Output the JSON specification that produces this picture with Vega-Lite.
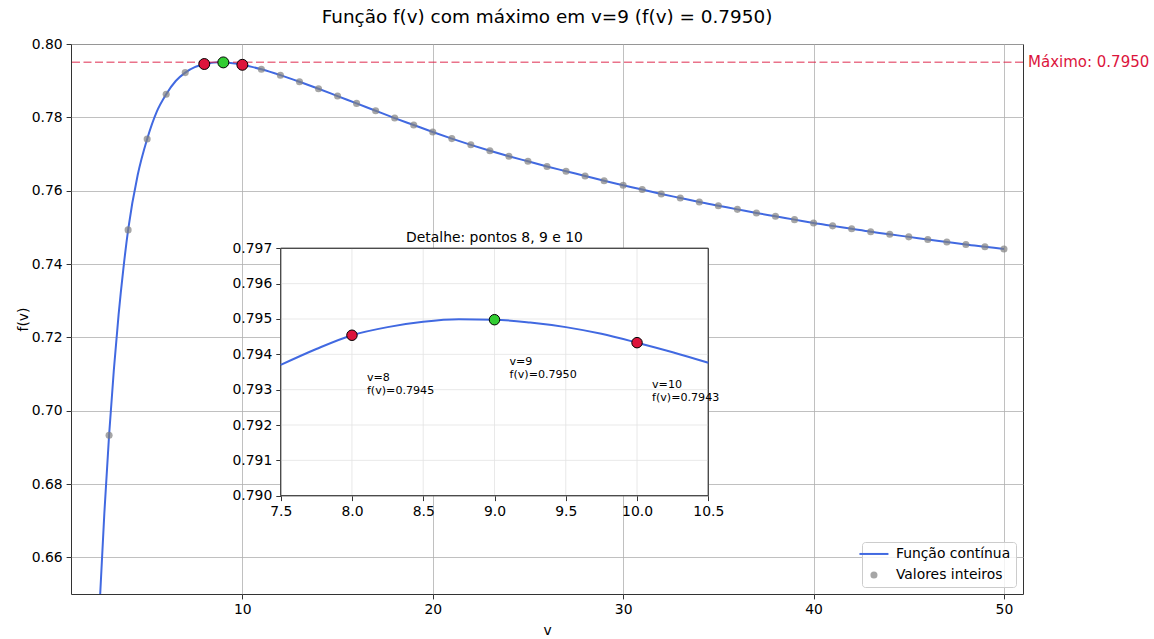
{
  "$schema": "https://vega.github.io/schema/vega-lite/v6.json",
  "width": 952,
  "height": 550,
  "autosize": "none",
  "padding": {"left": 71, "top": 44, "right": 131, "bottom": 45},
  "background": "white",
  "config": {
    "font": "DejaVu Sans",
    "view": {"stroke": "#333333", "strokeWidth": 1},
    "axis": {
      "labelFont": "DejaVu Sans", "labelFontSize": 13.9, "labelColor": "#000000",
      "titleFont": "DejaVu Sans", "titleFontSize": 13.9, "titleFontWeight": "normal", "titleColor": "#000000",
      "tickColor": "#333333", "tickSize": 4.9, "tickWidth": 1, "labelPadding": 4,
      "domain": false, "gridColor": "#b0b0b0", "gridWidth": 0.8, "labelFlush": false, "labelOverlap": false
    }
  },
  "title": {
    "text": "Função f(v) com máximo em v=9 (f(v) = 0.7950)",
    "font": "DejaVu Sans", "fontSize": 18.4, "fontWeight": "normal", "color": "#000000",
    "anchor": "middle", "frame": "group", "baseline": "alphabetic", "offset": -4
  },
  "datasets": {
    "curve": [
      {"v": 2.4, "f": 0.6352}, {"v": 2.5, "f": 0.6466}, {"v": 2.75, "f": 0.6719}, {"v": 3, "f": 0.6933},
      {"v": 3.25, "f": 0.7111}, {"v": 3.5, "f": 0.7262}, {"v": 3.75, "f": 0.7387}, {"v": 4, "f": 0.7493},
      {"v": 4.5, "f": 0.7642}, {"v": 5, "f": 0.7741}, {"v": 5.5, "f": 0.7815}, {"v": 6, "f": 0.7863},
      {"v": 6.5, "f": 0.7899}, {"v": 7, "f": 0.7922}, {"v": 7.5, "f": 0.7937}, {"v": 7.75, "f": 0.79415},
      {"v": 8, "f": 0.79454}, {"v": 8.25, "f": 0.79477}, {"v": 8.5, "f": 0.79492}, {"v": 8.75, "f": 0.79499},
      {"v": 9, "f": 0.79498}, {"v": 9.25, "f": 0.7949}, {"v": 9.5, "f": 0.79477}, {"v": 9.75, "f": 0.79458},
      {"v": 10, "f": 0.79433}, {"v": 10.25, "f": 0.79406}, {"v": 10.5, "f": 0.79376}, {"v": 11, "f": 0.7931},
      {"v": 12, "f": 0.7915}, {"v": 13, "f": 0.7897}, {"v": 14, "f": 0.7878}, {"v": 15, "f": 0.7858},
      {"v": 16, "f": 0.7838}, {"v": 17, "f": 0.7818}, {"v": 18, "f": 0.7798}, {"v": 19, "f": 0.7779},
      {"v": 20, "f": 0.776}, {"v": 21, "f": 0.7742}, {"v": 22, "f": 0.7725}, {"v": 23, "f": 0.7709},
      {"v": 24, "f": 0.7694}, {"v": 25, "f": 0.768}, {"v": 26, "f": 0.7666}, {"v": 27, "f": 0.7653},
      {"v": 28, "f": 0.764}, {"v": 29, "f": 0.7627}, {"v": 30, "f": 0.7615}, {"v": 31, "f": 0.7603},
      {"v": 32, "f": 0.7591}, {"v": 33, "f": 0.758}, {"v": 34, "f": 0.7569}, {"v": 35, "f": 0.7559},
      {"v": 36, "f": 0.7549}, {"v": 37, "f": 0.7539}, {"v": 38, "f": 0.753}, {"v": 39, "f": 0.7521},
      {"v": 40, "f": 0.7512}, {"v": 41, "f": 0.7504}, {"v": 42, "f": 0.7496}, {"v": 43, "f": 0.7488},
      {"v": 44, "f": 0.7481}, {"v": 45, "f": 0.7474}, {"v": 46, "f": 0.7467}, {"v": 47, "f": 0.746},
      {"v": 48, "f": 0.7453}, {"v": 49, "f": 0.7447}, {"v": 50, "f": 0.7441}
    ],
    "ints": [
      {"v": 3, "f": 0.6933}, {"v": 4, "f": 0.7493}, {"v": 5, "f": 0.7741}, {"v": 6, "f": 0.7863},
      {"v": 7, "f": 0.7922}, {"v": 8, "f": 0.79454}, {"v": 9, "f": 0.79498}, {"v": 10, "f": 0.79433},
      {"v": 11, "f": 0.7931}, {"v": 12, "f": 0.7915}, {"v": 13, "f": 0.7897}, {"v": 14, "f": 0.7878},
      {"v": 15, "f": 0.7858}, {"v": 16, "f": 0.7838}, {"v": 17, "f": 0.7818}, {"v": 18, "f": 0.7798},
      {"v": 19, "f": 0.7779}, {"v": 20, "f": 0.776}, {"v": 21, "f": 0.7742}, {"v": 22, "f": 0.7725},
      {"v": 23, "f": 0.7709}, {"v": 24, "f": 0.7694}, {"v": 25, "f": 0.768}, {"v": 26, "f": 0.7666},
      {"v": 27, "f": 0.7653}, {"v": 28, "f": 0.764}, {"v": 29, "f": 0.7627}, {"v": 30, "f": 0.7615},
      {"v": 31, "f": 0.7603}, {"v": 32, "f": 0.7591}, {"v": 33, "f": 0.758}, {"v": 34, "f": 0.7569},
      {"v": 35, "f": 0.7559}, {"v": 36, "f": 0.7549}, {"v": 37, "f": 0.7539}, {"v": 38, "f": 0.753},
      {"v": 39, "f": 0.7521}, {"v": 40, "f": 0.7512}, {"v": 41, "f": 0.7504}, {"v": 42, "f": 0.7496},
      {"v": 43, "f": 0.7488}, {"v": 44, "f": 0.7481}, {"v": 45, "f": 0.7474}, {"v": 46, "f": 0.7467},
      {"v": 47, "f": 0.746}, {"v": 48, "f": 0.7453}, {"v": 49, "f": 0.7447}, {"v": 50, "f": 0.7441}
    ],
    "destaque": [
      {"v": 8, "f": 0.79454, "tipo": "vizinho", "label": "v=8\nf(v)=0.7945"},
      {"v": 9, "f": 0.79498, "tipo": "máximo", "label": "v=9\nf(v)=0.7950"},
      {"v": 10, "f": 0.79433, "tipo": "vizinho", "label": "v=10\nf(v)=0.7943"}
    ],
    "maximo": [{"v": 9, "f": 0.795, "label": "Máximo: 0.7950"}],
    "inset": [{"v0": 7.5, "v1": 10.5, "f0": 0.79, "f1": 0.797, "titulo": "Detalhe: pontos 8, 9 e 10"}],
    "gridx": [{"g": 7.5}, {"g": 8}, {"g": 8.5}, {"g": 9}, {"g": 9.5}, {"g": 10}, {"g": 10.5}],
    "gridy": [{"g": 0.79}, {"g": 0.791}, {"g": 0.792}, {"g": 0.793}, {"g": 0.794}, {"g": 0.795}, {"g": 0.796}, {"g": 0.797}]
  },
  "layer": [
    {
      "layer": [
        {
          "data": {"name": "curve"},
          "mark": {"type": "line", "interpolate": "monotone", "strokeWidth": 2, "clip": true},
          "encoding": {
            "x": {"field": "v", "type": "quantitative",
              "scale": {"domain": [1, 51], "nice": false, "zero": false},
              "axis": {"values": [10, 20, 30, 40, 50], "format": "d", "title": "v", "grid": true, "titlePadding": 7}},
            "y": {"field": "f", "type": "quantitative",
              "scale": {"domain": [0.65, 0.8], "nice": false, "zero": false},
              "axis": {"values": [0.66, 0.68, 0.7, 0.72, 0.74, 0.76, 0.78, 0.8], "format": ".2f", "title": "f(v)", "grid": true, "titlePadding": 1}},
            "color": {"datum": "Função contínua", "type": "nominal",
              "scale": {"domain": ["Função contínua", "Valores inteiros"], "range": ["#4169E1", "#808080"]},
              "legend": {
                "title": null, "orient": "bottom-right", "offset": 7,
                "labelFont": "DejaVu Sans", "labelFontSize": 13.9, "labelColor": "#000000",
                "symbolSize": 1050, "labelOffset": 15, "rowPadding": 6, "padding": 5,
                "strokeColor": "#cccccc", "fillColor": "rgba(255,255,255,0.8)", "cornerRadius": 3,
                "encode": {"symbols": {"update": {
                  "shape": {"signal": "datum.value === 'Função contínua' ? 'stroke' : 'circle'"},
                  "size": {"signal": "datum.value === 'Função contínua' ? 841 : 50"},
                  "strokeWidth": {"signal": "datum.value === 'Função contínua' ? 2 : 0"},
                  "stroke": {"signal": "datum.value === 'Função contínua' ? '#4169E1' : 'transparent'"},
                  "fill": {"signal": "datum.value === 'Função contínua' ? 'transparent' : '#808080'"},
                  "opacity": {"signal": "datum.value === 'Função contínua' ? 1 : 0.7"}
                }}}
              }}
          }
        },
        {
          "data": {"name": "ints"},
          "mark": {"type": "circle", "size": 50, "opacity": 0.7},
          "encoding": {
            "x": {"field": "v", "type": "quantitative"},
            "y": {"field": "f", "type": "quantitative"},
            "color": {"datum": "Valores inteiros", "type": "nominal"}
          }
        },
        {
          "data": {"name": "maximo"},
          "mark": {"type": "rule", "color": "#DC143C", "opacity": 0.6, "strokeDash": [8, 3.5], "strokeWidth": 1.5},
          "encoding": {"y": {"field": "f", "type": "quantitative"}}
        },
        {
          "data": {"name": "destaque"},
          "mark": {"type": "circle", "size": 120, "opacity": 1, "stroke": "#000000", "strokeWidth": 1},
          "encoding": {
            "x": {"field": "v", "type": "quantitative"},
            "y": {"field": "f", "type": "quantitative"},
            "fill": {"field": "tipo", "type": "nominal",
              "scale": {"domain": ["vizinho", "máximo"], "range": ["#DC143C", "#32CD32"]}, "legend": null}
          }
        },
        {
          "data": {"name": "maximo"},
          "mark": {"type": "text", "align": "left", "baseline": "middle", "color": "#DC143C", "fontSize": 15, "dx": 5},
          "encoding": {
            "x": {"datum": 51, "type": "quantitative"},
            "y": {"field": "f", "type": "quantitative"},
            "text": {"field": "label"}
          }
        }
      ]
    },
    {
      "layer": [
        {
          "data": {"name": "inset"},
          "mark": {"type": "rect", "fill": "white", "stroke": "#333333", "strokeWidth": 1},
          "encoding": {
            "x": {"field": "v0", "type": "quantitative",
              "scale": {"domain": [7.5, 10.5], "range": [209.7, 637.3], "nice": false, "zero": false},
              "axis": {"orient": "bottom", "offset": -98.3, "values": [7.5, 8, 8.5, 9, 9.5, 10, 10.5], "format": ".1f", "title": null, "grid": false}},
            "x2": {"field": "v1"},
            "y": {"field": "f0", "type": "quantitative",
              "scale": {"domain": [0.79, 0.797], "range": [451.7, 204.3], "nice": false, "zero": false},
              "axis": {"orient": "left", "offset": -209.7, "values": [0.79, 0.791, 0.792, 0.793, 0.794, 0.795, 0.796, 0.797], "format": ".3f", "title": null, "grid": false}},
            "y2": {"field": "f1"}
          }
        },
        {
          "data": {"name": "gridx"},
          "mark": {"type": "rule", "color": "#e3e3e3", "strokeWidth": 0.8},
          "encoding": {
            "x": {"field": "g", "type": "quantitative"},
            "y": {"datum": 0.79, "type": "quantitative"},
            "y2": {"datum": 0.797}
          }
        },
        {
          "data": {"name": "gridy"},
          "mark": {"type": "rule", "color": "#e3e3e3", "strokeWidth": 0.8},
          "encoding": {
            "y": {"field": "g", "type": "quantitative"},
            "x": {"datum": 7.5, "type": "quantitative"},
            "x2": {"datum": 10.5}
          }
        },
        {
          "data": {"name": "inset"},
          "mark": {"type": "rect", "fill": "transparent", "stroke": "#333333", "strokeWidth": 1},
          "encoding": {
            "x": {"field": "v0", "type": "quantitative"},
            "x2": {"field": "v1"},
            "y": {"field": "f0", "type": "quantitative"},
            "y2": {"field": "f1"}
          }
        },
        {
          "data": {"name": "curve"},
          "transform": [{"filter": "datum.v >= 7.5 && datum.v <= 10.5"}],
          "mark": {"type": "line", "interpolate": "monotone", "strokeWidth": 2, "color": "#4169E1"},
          "encoding": {
            "x": {"field": "v", "type": "quantitative"},
            "y": {"field": "f", "type": "quantitative"}
          }
        },
        {
          "data": {"name": "destaque"},
          "mark": {"type": "circle", "size": 110, "opacity": 1, "stroke": "#000000", "strokeWidth": 1},
          "encoding": {
            "x": {"field": "v", "type": "quantitative"},
            "y": {"field": "f", "type": "quantitative"},
            "fill": {"field": "tipo", "type": "nominal",
              "scale": {"domain": ["vizinho", "máximo"], "range": ["#DC143C", "#32CD32"]}, "legend": null}
          }
        },
        {
          "data": {"name": "destaque"},
          "mark": {"type": "text", "align": "left", "baseline": "alphabetic", "fontSize": 11.1, "lineBreak": "\n", "lineHeight": 13.3, "dx": 15, "dy": 45.5, "color": "#000000"},
          "encoding": {
            "x": {"field": "v", "type": "quantitative"},
            "y": {"field": "f", "type": "quantitative"},
            "text": {"field": "label"}
          }
        },
        {
          "data": {"name": "inset"},
          "mark": {"type": "text", "align": "center", "baseline": "alphabetic", "fontSize": 13.9, "dy": -6.5, "color": "#000000"},
          "encoding": {
            "x": {"datum": 9, "type": "quantitative"},
            "y": {"field": "f1", "type": "quantitative"},
            "text": {"field": "titulo"}
          }
        }
      ]
    }
  ],
  "resolve": {
    "scale": {"x": "independent", "y": "independent"},
    "axis": {"x": "independent", "y": "independent"}
  }
}
